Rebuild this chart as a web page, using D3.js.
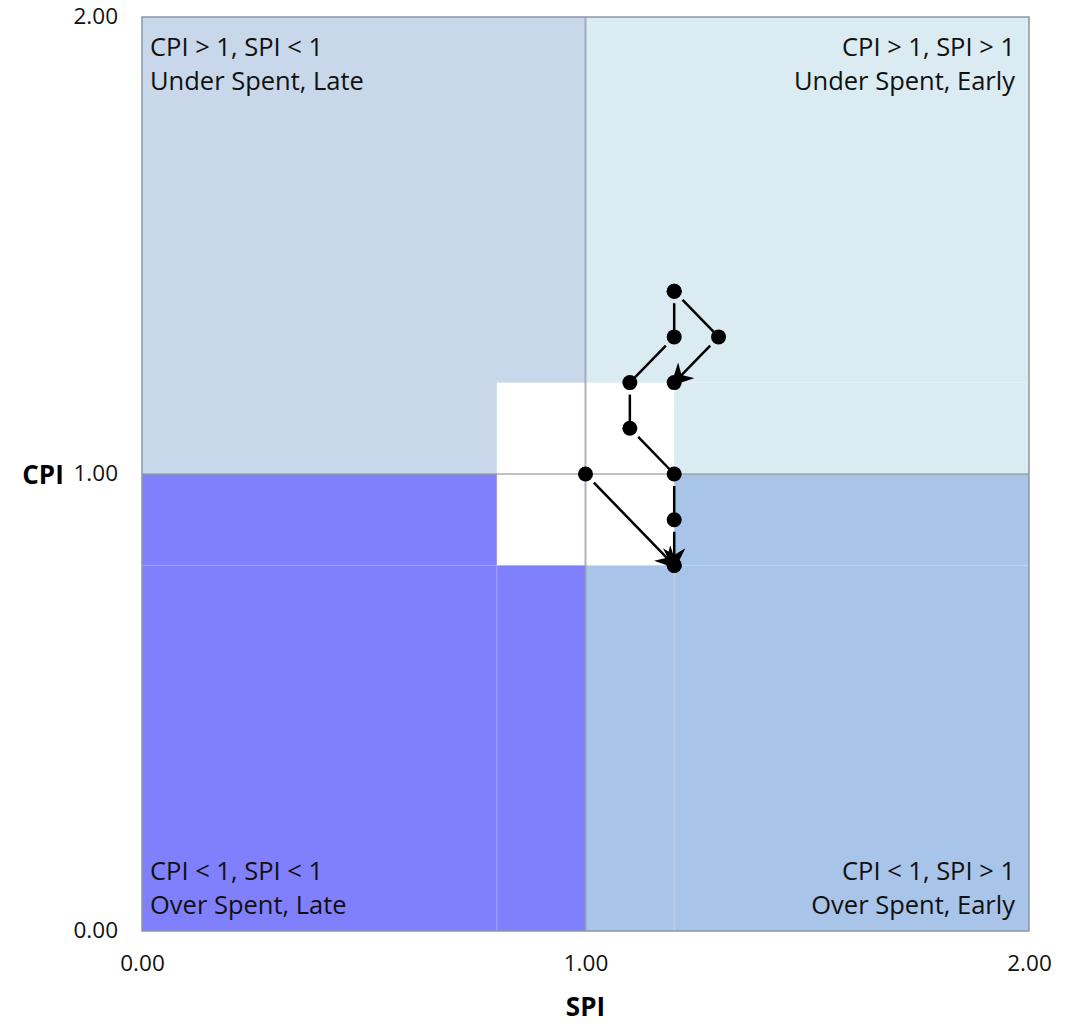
<!DOCTYPE html>
<html><head><meta charset="utf-8">
<script src="https://cdn.jsdelivr.net/npm/d3@7"></script>
<style>body{margin:0;background:#fff}text{font-family:"Open Sans",Lato,sans-serif}</style>
</head><body><svg id="c" width="1065" height="1024"></svg>
<script>
// Data
const ticks = [0, 1, 2];
const quadrants = [
  {x0:0, x1:1, y0:1, y1:2, fill:"#C8D8EA", l1:"CPI > 1, SPI < 1", l2:"Under Spent, Late", pos:"tl"},
  {x0:1, x1:2, y0:1, y1:2, fill:"#DAEBF2", l1:"CPI > 1, SPI > 1", l2:"Under Spent, Early", pos:"tr"},
  {x0:0, x1:1, y0:0, y1:1, fill:"#8080FC", l1:"CPI < 1, SPI < 1", l2:"Over Spent, Late", pos:"bl"},
  {x0:1, x1:2, y0:0, y1:1, fill:"#A8C4E8", l1:"CPI < 1, SPI > 1", l2:"Over Spent, Early", pos:"br"}
];
const zone = {x0:0.8, x1:1.2, y0:0.8, y1:1.2};
const seriesA_spi = [1.0, 1.2];
const seriesA_cpi = [1.0, 0.8];
const seriesB_spi = [1.2, 1.3, 1.2];
const seriesB_cpi = [1.4, 1.3, 1.2];
const seriesC_spi = [1.2, 1.2, 1.1, 1.1, 1.2, 1.2, 1.2];
const seriesC_cpi = [1.4, 1.3, 1.2, 1.1, 1.0, 0.9, 0.8];

const svg = d3.select("#c");
const x = d3.scaleLinear().domain([0,2]).range([142,1029]);
const y = d3.scaleLinear().domain([0,2]).range([931,17]);

// quadrants
svg.selectAll("rect.q").data(quadrants).join("rect")
  .attr("x", d=>x(d.x0)).attr("y", d=>y(d.y1))
  .attr("width", d=>x(d.x1)-x(d.x0)).attr("height", d=>y(d.y0)-y(d.y1))
  .attr("fill", d=>d.fill);

// faint internal boundary lines
const faint = [
  [[1.2,0],[1.2,0.8]], [[0.8,0],[0.8,0.8]], [[0,0.8],[0.8,0.8]], [[1.2,0.8],[2,0.8]],
  [[1.2,1.2],[2,1.2]]
];
svg.selectAll("line.f").data(faint).join("line")
  .attr("x1", d=>x(d[0][0])).attr("y1", d=>y(d[0][1]))
  .attr("x2", d=>x(d[1][0])).attr("y2", d=>y(d[1][1]))
  .attr("stroke", "#ffffff").attr("stroke-opacity", 0.3).attr("stroke-width", 1);

// white zone
svg.append("rect").attr("x", x(zone.x0)).attr("y", y(zone.y1))
  .attr("width", x(zone.x1)-x(zone.x0)).attr("height", y(zone.y0)-y(zone.y1)).attr("fill", "#fff");

// grid lines at 1
svg.append("line").attr("x1", x(0)).attr("x2", x(2)).attr("y1", y(1)).attr("y2", y(1))
  .attr("stroke", "#9a9a9a").attr("stroke-opacity", 0.6).attr("stroke-width", 2);
svg.append("line").attr("x1", x(1)).attr("x2", x(1)).attr("y1", y(0)).attr("y2", y(2))
  .attr("stroke", "#8a96a6").attr("stroke-opacity", 0.7).attr("stroke-width", 2);

// plot border
svg.append("rect").attr("x", x(0)).attr("y", y(2)).attr("width", x(2)-x(0)).attr("height", y(0)-y(2))
  .attr("fill", "none").attr("stroke", "#8a96a6").attr("stroke-width", 1.5);

// quadrant labels
quadrants.forEach(q => {
  const right = q.pos[1] === "r";
  const top = q.pos[0] === "t";
  const tx = right ? x(2) - 14 : x(0) + 8;
  const ty1 = top ? 56 : 880;
  const g = svg.append("g").attr("text-anchor", right ? "end" : "start")
    .attr("font-size", 25.5).attr("fill", "#111");
  g.append("text").attr("x", tx).attr("y", ty1).text(q.l1);
  g.append("text").attr("x", tx).attr("y", ty1 + 34).text(q.l2);
});

// axes (labels only)
const yAxis = d3.axisLeft(y).tickValues(ticks).tickFormat(d3.format(".2f")).tickSize(0).tickPadding(24);
const gy = svg.append("g").attr("transform", `translate(${x(0)},0)`).call(yAxis);
gy.select(".domain").remove();
gy.selectAll("text").attr("font-size", 22.5).attr("fill", "#111").style("font-family", "'Open Sans', sans-serif")
  .attr("dy", "0.3em");
const xAxis = d3.axisBottom(x).tickValues(ticks).tickFormat(d3.format(".2f")).tickSize(0).tickPadding(24);
const gx = svg.append("g").attr("transform", `translate(0,${y(0)})`).call(xAxis);
gx.select(".domain").remove();
gx.selectAll("text").attr("font-size", 22.5).attr("fill", "#111").style("font-family", "'Open Sans', sans-serif");

svg.append("text").attr("x", x(1)).attr("y", 1016).attr("text-anchor", "middle")
  .attr("font-size", 26).attr("font-weight", "bold").text("SPI");
svg.append("text").attr("x", 43).attr("y", 484).attr("text-anchor", "middle")
  .attr("font-size", 26).attr("font-weight", "bold").text("CPI");

// arrow marker
const defs = svg.append("defs");
defs.append("marker").attr("id", "arr").attr("viewBox", "0 0 10 10").attr("refX", 5).attr("refY", 5)
  .attr("markerWidth", 9).attr("markerHeight", 9).attr("orient", "auto")
  .append("path").attr("d", "M0,0 L10,5 L0,10 L3,5 Z").attr("fill", "#000");

function drawSeries(spi, cpi) {
  const pts = spi.map((s,i)=>[x(s), y(cpi[i])]);
  for (let i = 0; i < pts.length - 1; i++) {
    const [ax, ay] = pts[i], [bx, by] = pts[i+1];
    const dx = bx-ax, dy = by-ay, len = Math.hypot(dx, dy);
    const gap = 12;
    const last = i === pts.length - 2;
    const line = svg.append("line")
      .attr("x1", ax + dx/len*gap).attr("y1", ay + dy/len*gap)
      .attr("x2", bx - (last ? dx/len*6 : 0)).attr("y2", by - (last ? dy/len*6 : 0))
      .attr("stroke", "#000").attr("stroke-width", 2.5);
    if (last) line.attr("marker-end", "url(#arr)");
  }
  svg.selectAll(null).data(pts).join("circle")
    .attr("cx", d=>d[0]).attr("cy", d=>d[1]).attr("r", 7.5).attr("fill", "#000");
}
drawSeries(seriesA_spi, seriesA_cpi);
drawSeries(seriesB_spi, seriesB_cpi);
drawSeries(seriesC_spi, seriesC_cpi);
</script></body></html>
